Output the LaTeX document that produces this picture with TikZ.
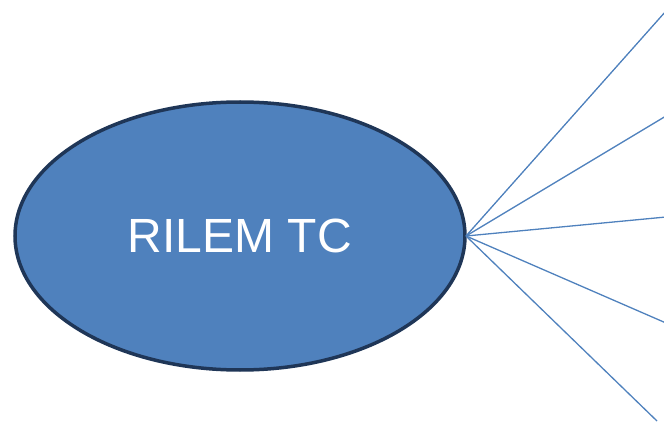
\documentclass[tikz,border=0pt]{standalone}
\usepackage{fontspec}
\setmainfont{Liberation Sans}
\usetikzlibrary{shapes.geometric}
\definecolor{fillblue}{HTML}{4F81BD}
\definecolor{edgeblue}{HTML}{1F3657}
\begin{document}
\begin{tikzpicture}[x=1pt,y=-1pt,
  hub/.style={ellipse,draw=edgeblue,line width=3.5pt,fill=fillblue,minimum width=450pt,minimum height=268pt,inner sep=0pt,text=white,font=\fontsize{48}{56}\selectfont},
  spoke/.style={draw=fillblue,line width=1.3pt}]
\useasboundingbox (0,0) rectangle (664,422);
\node[hub] (c) at (240,236) {RILEM TC};
\coordinate (o) at (466,236);
\coordinate (e1) at (666,11);
\coordinate (e2) at (666,116);
\coordinate (e3) at (666,217);
\coordinate (e4) at (666,323);
\coordinate (e5) at (657,421);
\foreach \i in {1,...,5} \draw[spoke] (o) -- (e\i);
\end{tikzpicture}
\end{document}
